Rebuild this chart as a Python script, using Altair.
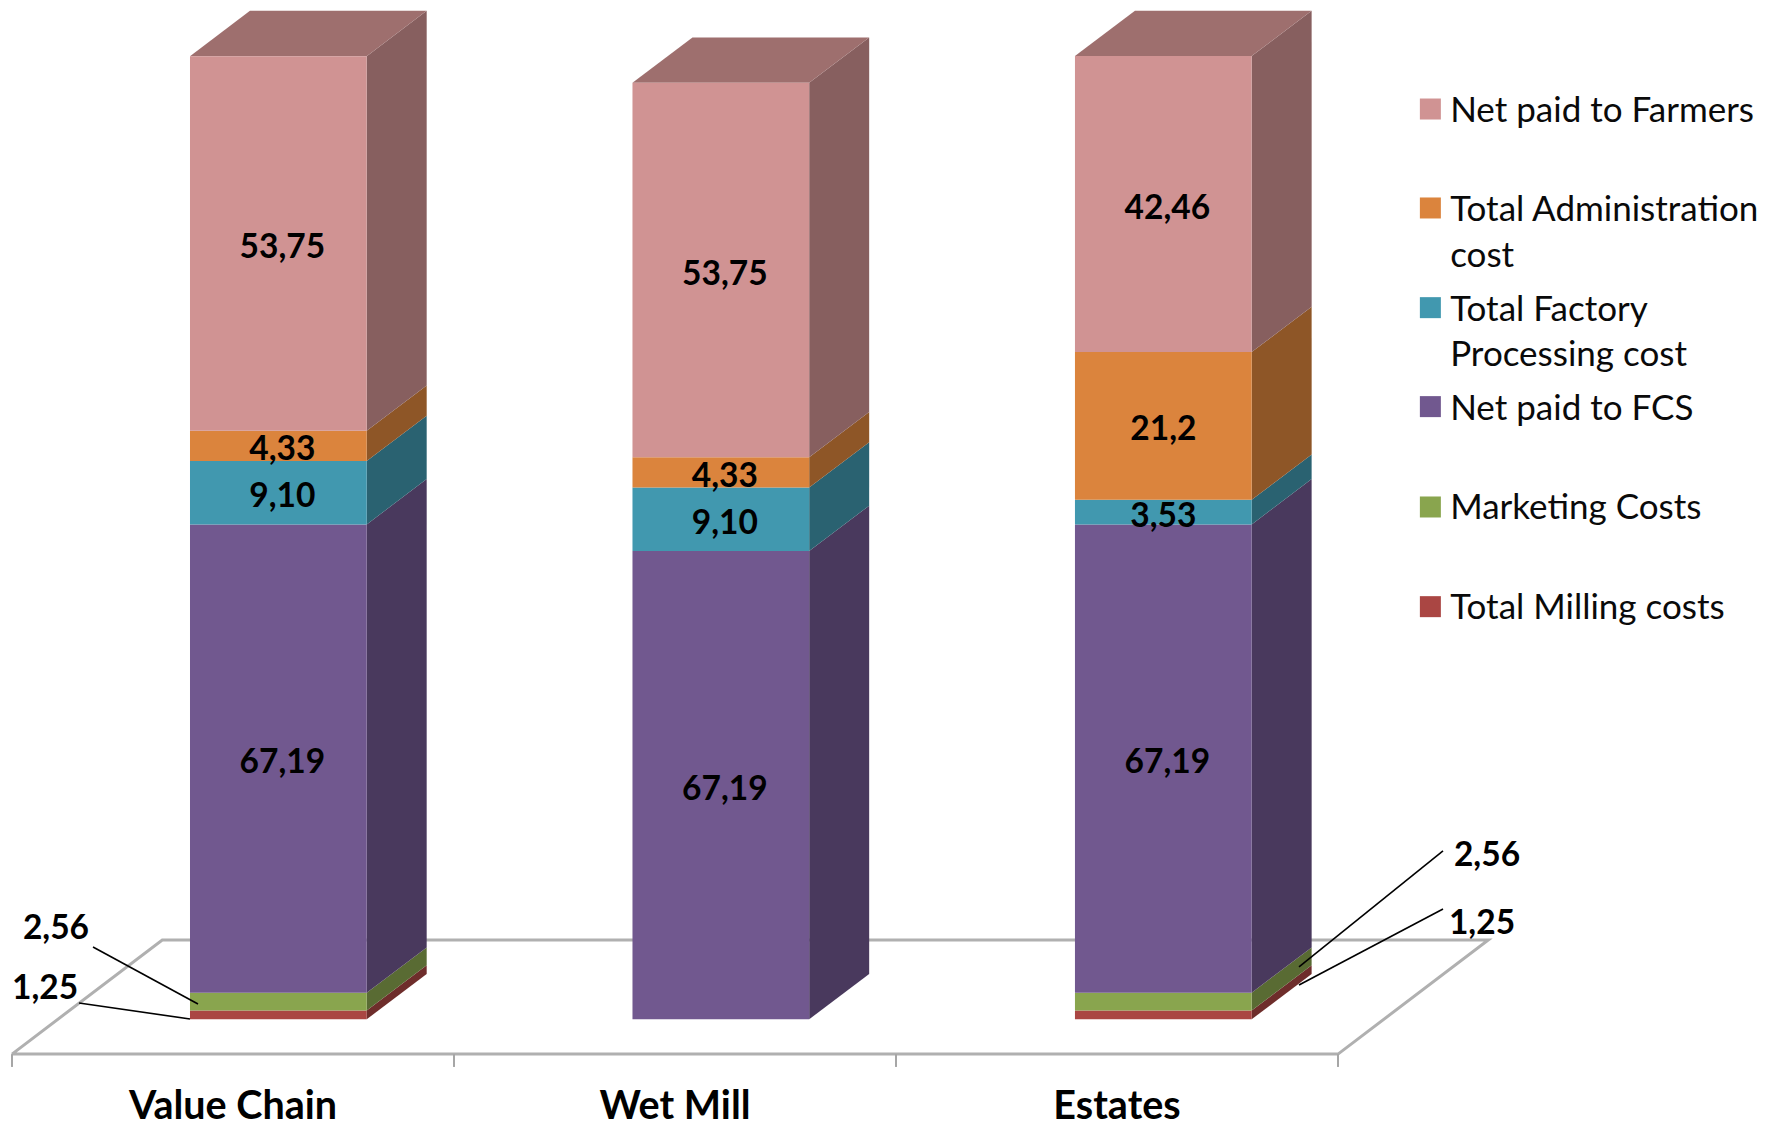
import altair as alt

# Chart values
categories = ["Value Chain", "Wet Mill", "Estates"]
series = [
    "Total Milling costs",
    "Marketing Costs",
    "Net paid to FCS",
    "Total Factory Processing cost",
    "Total Administration cost",
    "Net paid to Farmers",
]
milling = [1.25, 0, 1.25]
marketing = [2.56, 0, 2.56]
net_fcs = [67.19, 67.19, 67.19]
factory = [9.10, 9.10, 3.53]
administration = [4.33, 4.33, 21.2]
farmers = [53.75, 53.75, 42.46]
factory_text = ["9,10", "9,10", "3,53"]
administration_text = ["4,33", "4,33", "21,2"]
farmers_text = ["53,75", "53,75", "42,46"]
fcs_text = ["67,19", "67,19", "67,19"]

front_colors = ["#AA4643", "#89A54E", "#71588F", "#4198AF", "#DB843D", "#D09393"]
side_colors = ["#6E2D2B", "#596B33", "#49395D", "#2A6271", "#8E5627", "#875F5F"]
top_color = "#9E6F6E"

# Box geometry in data units
BAR_START, BAR_STEP, BAR_WIDTH = 0.4027, 1.0011, 0.3998
DEPTH_X, DEPTH_Y = 0.1357, 6.5
FLOOR_FRONT, FLOOR_BACK, FLOOR_SHIFT = -5.0, 11.38, 0.34
TICK_END = -6.84

columns = [milling, marketing, net_fcs, factory, administration, farmers]
texts = [None, None, fcs_text, factory_text, administration_text, farmers_text]

fronts, sides, tops, value_labels = [], [], [], []
for k, category in enumerate(categories):
    left = BAR_START + k * BAR_STEP
    right = left + BAR_WIDTH
    base = 0.0
    for s, name in enumerate(series):
        v = columns[s][k]
        if v == 0:
            continue
        top = base + v
        fronts.append(dict(series=name, x=left, x2=right, y=base, y2=top))
        key = f"{k}-{s}"
        sides.append(dict(series=name, key=key, x=right, y=base, y2=top))
        sides.append(dict(series=name, key=key, x=right + DEPTH_X, y=base + DEPTH_Y, y2=top + DEPTH_Y))
        if texts[s]:
            # The two narrower labels of the last bar sit slightly further left
            nudge = -0.009 if texts[s][k] in ("3,53", "21,2") else 0
            value_labels.append(dict(x=(left + right) / 2 + nudge, y=(base + top) / 2, text=texts[s][k]))
        base = top
    tops.append(dict(key=str(k), x=left, x2=right, y=base))
    tops.append(dict(key=str(k), x=left + DEPTH_X, x2=right + DEPTH_X, y=base + DEPTH_Y))

floor = [
    dict(i=0, x=0, y=FLOOR_FRONT),
    dict(i=1, x=3, y=FLOOR_FRONT),
    dict(i=2, x=3 + FLOOR_SHIFT, y=FLOOR_BACK),
    dict(i=3, x=FLOOR_SHIFT, y=FLOOR_BACK),
    dict(i=4, x=0, y=FLOOR_FRONT),
]
ticks = [dict(x=k, y=FLOOR_FRONT, y2=TICK_END) for k in range(4)]
category_labels = [dict(x=k + 0.5, y=-12.65, text=c) for k, c in enumerate(categories)]

# Small segments are labelled beside the bars, with leader lines
leaders = [
    dict(key="a", x=0.1833, y=10.37), dict(key="a", x=0.4208, y=2.20),
    dict(key="b", x=0.1516, y=2.34), dict(key="b", x=0.4027, y=0.04),
    dict(key="c", x=2.9118, y=7.50), dict(key="c", x=3.2376, y=24.15),
    dict(key="d", x=2.9118, y=4.92), dict(key="d", x=3.2376, y=15.82),
]
leader_labels = [
    dict(x=0.0995, y=13.10, text="2,56"),
    dict(x=0.0747, y=4.49, text="1,25"),
    dict(x=3.3371, y=23.57, text="2,56"),
    dict(x=3.3258, y=13.82, text="1,25"),
]

# Key, listed from the top of the stack down
key_swatches = [
    dict(series="Net paid to Farmers", y=130.6),
    dict(series="Total Administration cost", y=116.4),
    dict(series="Total Factory Processing cost", y=102.1),
    dict(series="Net paid to FCS", y=87.9),
    dict(series="Marketing Costs", y=73.5),
    dict(series="Total Milling costs", y=59.2),
]
key_lines = [
    dict(text="Net paid to Farmers", y=130.6),
    dict(text="Total Administration", y=116.4),
    dict(text="cost", y=109.8),
    dict(text="Total Factory", y=102.1),
    dict(text="Processing cost", y=95.6),
    dict(text="Net paid to FCS", y=87.9),
    dict(text="Marketing Costs", y=73.6),
    dict(text="Total Milling costs", y=59.3),
]
KEY_SWATCH_X, KEY_TEXT_X = 3.209, 3.2538

x_scale = alt.Scale(domain=[-0.02715, 4.0068], nice=False, zero=False)
y_scale = alt.Scale(domain=[-15.6, 146.24], nice=False, zero=False)
X = alt.X("x:Q", scale=x_scale, axis=None)
Y = alt.Y("y:Q", scale=y_scale, axis=None, stack=None)
front_scale = alt.Scale(domain=series, range=front_colors)
side_scale = alt.Scale(domain=series, range=side_colors)
FONT = "Lato"


def frame(rows):
    return alt.Data(values=rows)


floor_layer = (
    alt.Chart(frame(floor))
    .mark_line(color="#B0B0B0", strokeWidth=3)
    .encode(x=X, y=Y, order="i:Q")
)
tick_layer = (
    alt.Chart(frame(ticks))
    .mark_rule(color="#A6A6A6", strokeWidth=2)
    .encode(x=X, y=Y, y2="y2:Q")
)
side_layer = (
    alt.Chart(frame(sides))
    .mark_area(orient="vertical")
    .encode(
        x=X, y=Y, y2="y2:Q", detail="key:N",
        color=alt.Color("series:N", scale=side_scale, legend=None),
    )
)
top_layer = (
    alt.Chart(frame(tops))
    .mark_area(orient="horizontal", color=top_color)
    .encode(x=X, x2="x2:Q", y=Y, detail="key:N")
)
front_layer = (
    alt.Chart(frame(fronts))
    .mark_rect()
    .encode(
        x=X, x2="x2:Q", y=Y, y2="y2:Q",
        color=alt.Color("series:N", scale=front_scale, legend=None),
    )
)
value_layer = (
    alt.Chart(frame(value_labels))
    .mark_text(font=FONT, fontWeight="bold", fontSize=33.5, color="#000000", dx=4, dy=4.5)
    .encode(x=X, y=Y, text="text:N")
)
leader_layer = (
    alt.Chart(frame(leaders))
    .mark_line(color="#000000", strokeWidth=1.6)
    .encode(x=X, y=Y, detail="key:N")
)
leader_text_layer = (
    alt.Chart(frame(leader_labels))
    .mark_text(font=FONT, fontWeight="bold", fontSize=33.5, color="#000000", dy=1.5)
    .encode(x=X, y=Y, text="text:N")
)
category_layer = (
    alt.Chart(frame(category_labels))
    .mark_text(font=FONT, fontWeight="bold", fontSize=39.5, color="#000000")
    .encode(x=X, y=Y, text="text:N")
)
swatch_layer = (
    alt.Chart(frame(key_swatches))
    .transform_calculate(x=str(KEY_SWATCH_X))
    .mark_square(size=441, opacity=1)
    .encode(
        x=X, y=Y,
        color=alt.Color("series:N", scale=front_scale, legend=None),
    )
)
key_text_layer = (
    alt.Chart(frame(key_lines))
    .transform_calculate(x=str(KEY_TEXT_X))
    .mark_text(font=FONT, fontSize=35, color="#0A0A0A", align="left", dy=2)
    .encode(x=X, y=Y, text="text:N")
)

chart = (
    alt.layer(
        floor_layer, tick_layer, side_layer, top_layer, front_layer,
        value_layer, leader_layer, leader_text_layer, category_layer,
        swatch_layer, key_text_layer,
    )
    .resolve_scale(color="independent")
    .properties(width=1783, height=1128, padding=0, background="#FFFFFF")
    .configure_view(stroke=None)
)

chart.save("out.html", embed_options={"renderer": "svg", "actions": False})
